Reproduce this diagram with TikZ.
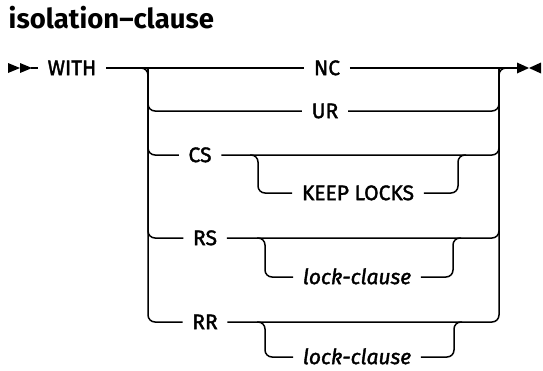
\documentclass[tikz,border=0pt]{standalone}
\usepackage{fontspec}
\setmainfont{Fira Sans}
\newfontfamily\labfont{Fira Sans}[FakeBold=1.8]
\begin{document}
\begin{tikzpicture}[x=1pt,y=-1pt,
  line width=1.5pt,
  rc/.style={rounded corners=7pt},
  lab/.style={inner xsep=9pt, inner ysep=0pt, text height=14.2pt, text depth=0pt, font=\labfont\fontsize{21}{25}\selectfont},
  ilab/.style={lab, font=\labfont\fontsize{21}{25}\selectfont\itshape}]
\useasboundingbox (0,0) rectangle (543,370);
% title
\node[anchor=base west, inner sep=0pt, font=\fontsize{27.5}{31}\selectfont\bfseries] (title) at (8,28) {isolation–clause};
% start symbol
\fill (8,63) -- (20,68) -- (8,73) -- cycle;
\fill (20,63) -- (32,68) -- (20,73) -- cycle;
\coordinate (s) at (31,68);
% end symbol
\coordinate (e) at (518,68);
\fill (517,62.5) -- (529,68) -- (517,73.5) -- cycle;
\fill (541,62.5) -- (529,68) -- (541,73.5) -- cycle;
% bracket coordinates
\coordinate (L) at (148,68);
\coordinate (R) at (499,68);
% nodes
\node[lab] (with) at (72,68) {WITH};
\node[lab] (nc) at (327,68) {NC};
\node[lab] (ur) at (325,111) {UR};
\node[lab] (cs) at (200,155) {CS};
\node[lab] (kl) at (358,193) {KEEP LOCKS};
\node[lab] (rs) at (205,238) {RS};
\node[ilab] (lc1) at (357,277) {lock-clause};
\node[lab] (rr) at (205,322) {RR};
\node[ilab] (lc2) at (357,357) {lock-clause};
% main line
\draw (s) -- (with.west);
\draw (with.east) -- (nc.west);
\draw (nc.east) -- (e);
% outer bracket
\draw[rc] ([xshift=-8pt]L) -| (L |- rr.west) -- (rr.west);
\draw[rc] (L) |- (ur.west);
\draw[rc] (L) |- (cs.west);
\draw[rc] (L) |- (rs.west);
\draw[rc] (rr.east) -| (R) -- ([xshift=8pt]R);
\draw[rc] (ur.east) -| (R);
\draw[rc] (cs.east) -| (R);
\draw[rc] (rs.east) -| (R);
% inner brackets
\coordinate (a1) at (258,155); \coordinate (b1) at (458,155);
\coordinate (a2) at (265,238); \coordinate (b2) at (453,238);
\coordinate (a3) at (265,322); \coordinate (b3) at (454,322);
\draw[rc] ([xshift=-8pt]a1) -| (a1 |- kl.west) -- (kl.west);
\draw[rc] (kl.east) -| (b1) -- ([xshift=8pt]b1);
\draw[rc] ([xshift=-8pt]a2) -| (a2 |- lc1.west) -- (lc1.west);
\draw[rc] (lc1.east) -| (b2) -- ([xshift=8pt]b2);
\draw[rc] ([xshift=-8pt]a3) -| (a3 |- lc2.west) -- (lc2.west);
\draw[rc] (lc2.east) -| (b3) -- ([xshift=8pt]b3);
\end{tikzpicture}
\end{document}
